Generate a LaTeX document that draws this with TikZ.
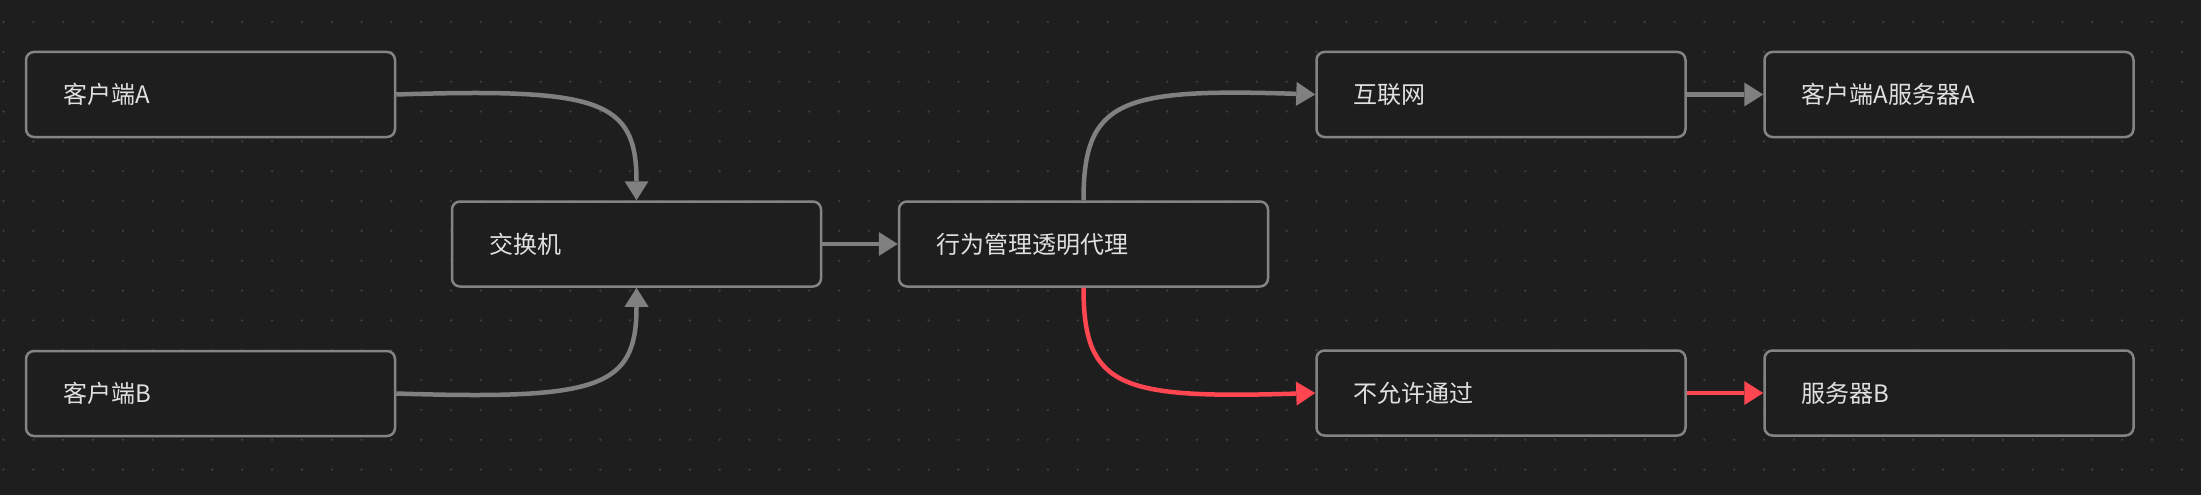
\documentclass[tikz,border=0pt]{standalone}
\usepackage{fontspec}
\setmainfont{Noto Sans CJK SC}
\usetikzlibrary{arrows.meta}
\definecolor{bg}{HTML}{1E1E1E}
\definecolor{dotc}{HTML}{3E3E3E}
\definecolor{boxc}{HTML}{848484}
\definecolor{linec}{HTML}{808080}
\definecolor{redc}{HTML}{FF4651}
\definecolor{txt}{HTML}{E0E0E0}
\begin{document}
\begin{tikzpicture}[x=1pt,y=-1pt,
  box/.style={draw=boxc, fill=bg, line width=2.5pt, rounded corners=8pt,
    minimum height=85pt, text width=295pt, inner xsep=37pt, inner ysep=0pt,
    align=left, text=txt, font=\fontsize{24pt}{28pt}\selectfont},
  conn/.style={draw=linec, line width=4.5pt,
    -{Triangle[length=19pt,width=24pt,line width=0pt]}},
  rconn/.style={conn, draw=redc}]
\fill[bg] (0,0) rectangle (2201,495);
\useasboundingbox (0,0) rectangle (2201,495);
\foreach \i in {0,...,73}{
  \foreach \j in {0,...,16}{
    \fill[dotc] (3.5+29.84*\i, 22+29.84*\j) circle (1.3pt);
  }
}
\node[box] (ca) at (210.5,94.5) {客户端A};
\node[box] (cb) at (210.5,393.5) {客户端B};
\node[box] (sw) at (636.5,244) {交换机};
\node[box] (px) at (1083.5,244) {行为管理透明代理};
\node[box] (inet) at (1501,94.5) {互联网};
\node[box] (sa) at (1949,94.5) {客户端A服务器A};
\node[box] (deny) at (1501,393) {不允许通过};
\node[box] (sb) at (1949,393) {服务器B};

\draw[conn] (ca.east) .. controls (600,88) and (636.5,100) .. (sw.north);
\draw[conn] (cb.east) .. controls (600,400) and (636.5,388) .. (sw.south);
\draw[conn] (sw.east) -- (px.west);
\draw[conn] (px.north) .. controls (1083.5,100) and (1120,88) .. (inet.west);
\draw[conn] (inet.east) -- (sa.west);
\draw[rconn] (px.south) .. controls (1083.5,388) and (1120,399) .. (deny.west);
\draw[rconn] (deny.east) -- (sb.west);
\end{tikzpicture}
\end{document}
